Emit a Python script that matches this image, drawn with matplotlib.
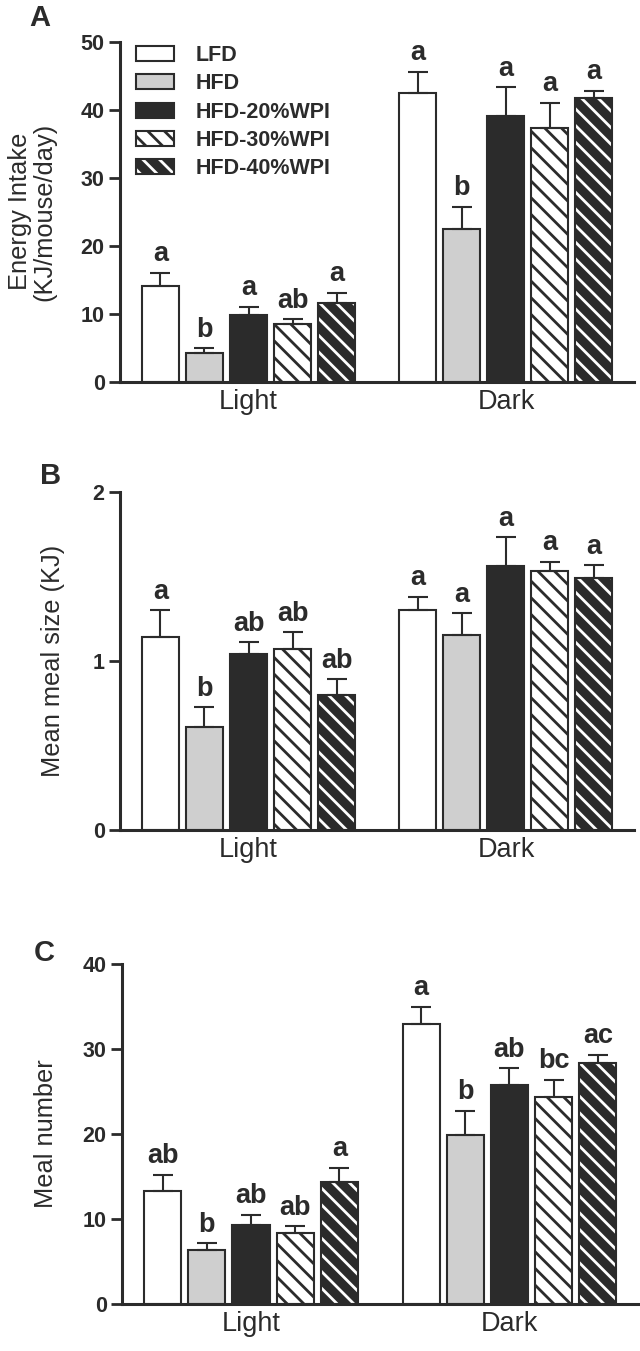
import matplotlib
matplotlib.use('Agg')
import matplotlib.pyplot as plt
from matplotlib.legend_handler import HandlerTuple
import numpy as np

plt.rcParams['font.family'] = ['Liberation Sans', 'DejaVu Sans']
plt.rcParams['hatch.linewidth'] = 2.0

# ---------------- data ----------------
groups = ['Light', 'Dark']
series = ['LFD', 'HFD', 'HFD-20%WPI', 'HFD-30%WPI', 'HFD-40%WPI']

# Panel A: Energy intake (KJ/mouse/day)
energy_light = [14.0, 4.2, 9.8, 8.5, 11.6]
energy_light_sem = [2.0, 0.7, 1.2, 0.7, 1.5]
energy_dark = [42.45, 22.5, 39.1, 37.35, 41.7]
energy_dark_sem = [3.15, 3.2, 4.2, 3.65, 1.05]
energy_light_sig = ['a', 'b', 'a', 'ab', 'a']
energy_dark_sig = ['a', 'b', 'a', 'a', 'a']

# Panel B: Mean meal size (KJ)
size_light = [1.14, 0.61, 1.04, 1.07, 0.80]
size_light_sem = [0.16, 0.115, 0.07, 0.10, 0.09]
size_dark = [1.30, 1.15, 1.56, 1.53, 1.49]
size_dark_sem = [0.08, 0.13, 0.17, 0.055, 0.075]
size_light_sig = ['a', 'b', 'ab', 'ab', 'ab']
size_dark_sig = ['a', 'a', 'a', 'a', 'a']

# Panel C: Meal number
number_light = [13.25, 6.3, 9.3, 8.35, 14.3]
number_light_sem = [1.95, 0.85, 1.2, 0.8, 1.7]
number_dark = [32.9, 19.9, 25.8, 24.3, 28.3]
number_dark_sem = [2.05, 2.8, 1.95, 2.05, 1.0]
number_light_sig = ['ab', 'b', 'ab', 'ab', 'a']
number_dark_sig = ['a', 'b', 'ab', 'bc', 'ac']

yticks_A = [0, 10, 20, 30, 40, 50]
yticks_B = [0, 1, 2]
yticks_C = [0, 10, 20, 30, 40]

# ---------------- style ----------------
INK = '#2b2b2b'
faces = ['white', '#cfcfcf', INK, 'white', INK]
hatches = [None, None, None, '\\\\', '\\\\']
hatch_cols = [INK, INK, INK, INK, 'white']

W, H = 640, 1351
fig = plt.figure(figsize=(W / 100, H / 100), dpi=100)


def px_rect(left, top, right, bottom):
    return [left / W, 1 - bottom / H, (right - left) / W, (bottom - top) / H]


def draw(ax, light, light_sem, dark, dark_sem, light_sig, dark_sig,
         yticks, ylabel, label_x, legend=False):
    group_x = np.array([2.92, 8.77])
    handles = []
    for i in range(len(series)):
        x = group_x + (i - 2) * 1.0
        vals = np.array([light[i], dark[i]])
        errs = np.array([light_sem[i], dark_sem[i]])
        fill = ax.bar(x, vals, width=0.84, color=faces[i],
                      edgecolor=hatch_cols[i], hatch=hatches[i],
                      linewidth=0, zorder=2)
        edge = ax.bar(x, vals, width=0.84, color='none', edgecolor=INK,
                      linewidth=1.5, zorder=3)
        ax.errorbar(x, vals, yerr=[np.zeros(2), errs], fmt='none',
                    ecolor=INK, elinewidth=1.5, capsize=7, capthick=1.5,
                    zorder=4)
        sigs = [light_sig[i], dark_sig[i]]
        for xx, v, e, s in zip(x, vals, errs, sigs):
            ax.annotate(s, (xx, v + e), xytext=(0, 4),
                        textcoords='offset points', ha='center',
                        va='bottom', fontsize=19.5, fontweight='bold',
                        color=INK)
        handles.append((fill.patches[0], edge.patches[0]))

    ax.set_xlim(0, 11.68)
    ax.set_ylim(yticks[0], yticks[-1])
    ax.set_yticks(yticks, labels=[str(t) for t in yticks],
                  fontweight='bold', fontsize=15.5, color=INK)
    ax.set_xticks(group_x, labels=groups, fontsize=19.5, color=INK)
    ax.tick_params(axis='x', length=0, pad=5)
    ax.tick_params(axis='y', length=8, width=2, color=INK, pad=3)
    for s in ['top', 'right']:
        ax.spines[s].set_visible(False)
    for s in ['left', 'bottom']:
        ax.spines[s].set_linewidth(2.2)
        ax.spines[s].set_color(INK)
    ax.set_ylabel(ylabel, fontsize=18.3, color=INK, linespacing=1.0)
    ax.yaxis.label.set_va('center')
    ax.yaxis.set_label_coords(label_x, 0.5)

    if legend:
        ax.legend(handles, series, handler_map={tuple: HandlerTuple(ndivide=1)},
                  loc='upper left', bbox_to_anchor=(0.031, 0.99),
                  frameon=False, borderaxespad=0, borderpad=0,
                  handlelength=1.77, handleheight=0.7, handletextpad=1.0,
                  labelspacing=0.34,
                  prop={'weight': 'bold', 'size': 15.5}, labelcolor=INK)


axA = fig.add_axes(px_rect(120, 41.7, 634, 381.7))
draw(axA, energy_light, energy_light_sem, energy_dark, energy_dark_sem,
     energy_light_sig, energy_dark_sig, yticks_A,
     'Energy Intake\n(KJ/mouse/day)', (32 - 120) / 514, legend=True)

axB = fig.add_axes(px_rect(120, 491.7, 634, 830))
draw(axB, size_light, size_light_sem, size_dark, size_dark_sem,
     size_light_sig, size_dark_sig, yticks_B,
     'Mean meal size (KJ)', (53 - 120) / 514)

axC = fig.add_axes(px_rect(122, 964, 638, 1304))
draw(axC, number_light, number_light_sem, number_dark, number_dark_sem,
     number_light_sig, number_dark_sig, yticks_C,
     'Meal number', (46 - 122) / 516)

for lbl, x, y in [('A', 40, 18), ('B', 51, 476), ('C', 44, 953)]:
    fig.text(x / W, 1 - y / H, lbl, fontsize=21, fontweight='bold',
             ha='center', va='center', color=INK)

fig.savefig('out.png', dpi=100)
